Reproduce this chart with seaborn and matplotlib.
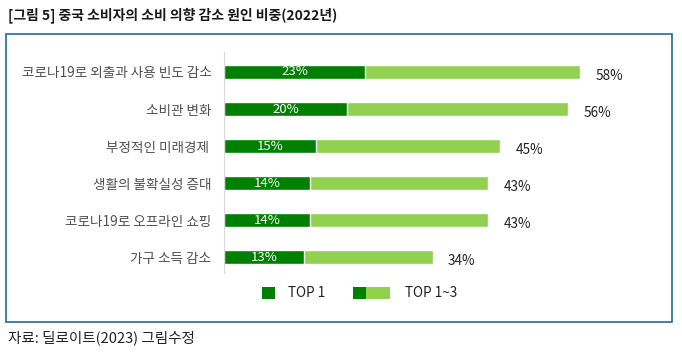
import numpy as np
import pandas as pd
import seaborn as sns
from matplotlib import pyplot as plt
from matplotlib.patches import Rectangle

sns.set_style('white')
plt.rcParams['font.family'] = ['Noto Sans CJK KR', 'DejaVu Sans']

# data
reasons = ['코로나19로 외출과 사용 빈도 감소', '소비관 변화', '부정적인 미래경제 ',
           '생활의 불확실성 증대', '코로나19로 오프라인 쇼핑', '가구 소득 감소']
top1 = [23, 20, 15, 14, 14, 13]
top3 = [58, 56, 45, 43, 43, 34]

df = pd.DataFrame({'reason': reasons, 'top1': top1, 'top3': top3})

dark = '#008000'
light = '#92D050'

fig = plt.figure(figsize=(6.82, 3.54), dpi=100)
ax = fig.add_axes([224/682, 1-273/354, 430/682, 221/354])

sns.barplot(data=df, x='top3', y='reason', color=light, width=0.38,
            saturation=1, ax=ax, orient='h')
sns.barplot(data=df, x='top1', y='reason', color=dark, width=0.38,
            saturation=1, ax=ax, orient='h')

ax.set_xlim(0, 70)
ax.set_ylim(5.43, -0.54)
ax.set_xlabel('')
ax.set_ylabel('')
ax.set_xticks([])
for s in ['top', 'right', 'bottom']:
    ax.spines[s].set_visible(False)
ax.spines['left'].set_color('#d9d9d9')
ax.tick_params(axis='y', length=0, pad=9, labelsize=9.8, labelcolor='#505050')

# value labels
for i, (a, b) in enumerate(zip(top1, top3)):
    ax.text(a / 2, i, f'{a}%', color='white', fontsize=9.5,
            ha='center', va='center')
    ax.annotate(f'{b}%', (b, i), xytext=(11, -3), textcoords='offset points',
                fontsize=9.8, color='#222222', ha='left', va='center')

# legend drawn in figure pixels
W, H = 682, 354
def fbox(x0, y0, w, h, c):
    fig.add_artist(Rectangle((x0/W, 1-(y0+h)/H), w/W, h/H,
                             transform=fig.transFigure, color=c, lw=0))
fbox(262, 287, 13, 12, dark)
fig.text(288/W, 1-293/H, 'TOP 1', fontsize=9.8, color='#222222', va='center')
fbox(353, 287, 13, 12, dark)
fbox(366, 287, 24, 12, light)
fig.text(405/W, 1-293/H, 'TOP 1~3', fontsize=9.8, color='#222222', va='center')

# frame around the chart
fig.add_artist(Rectangle((6/W, 1-322/H), 666/W, 288/H, transform=fig.transFigure,
                         fill=False, edgecolor='#1f6e8c', lw=1.2))

fig.text(8/W, 1-15/H, '[그림 5] 중국 소비자의 소비 의향 감소 원인 비중(2022년)',
         fontsize=10, fontweight='bold', color='#1a1a1a', va='center')
fig.text(8/W, 1-338/H, '자료: 딜로이트(2023) 그림수정',
         fontsize=10.5, color='#222222', va='center')

fig.savefig('out.png', dpi=100)
